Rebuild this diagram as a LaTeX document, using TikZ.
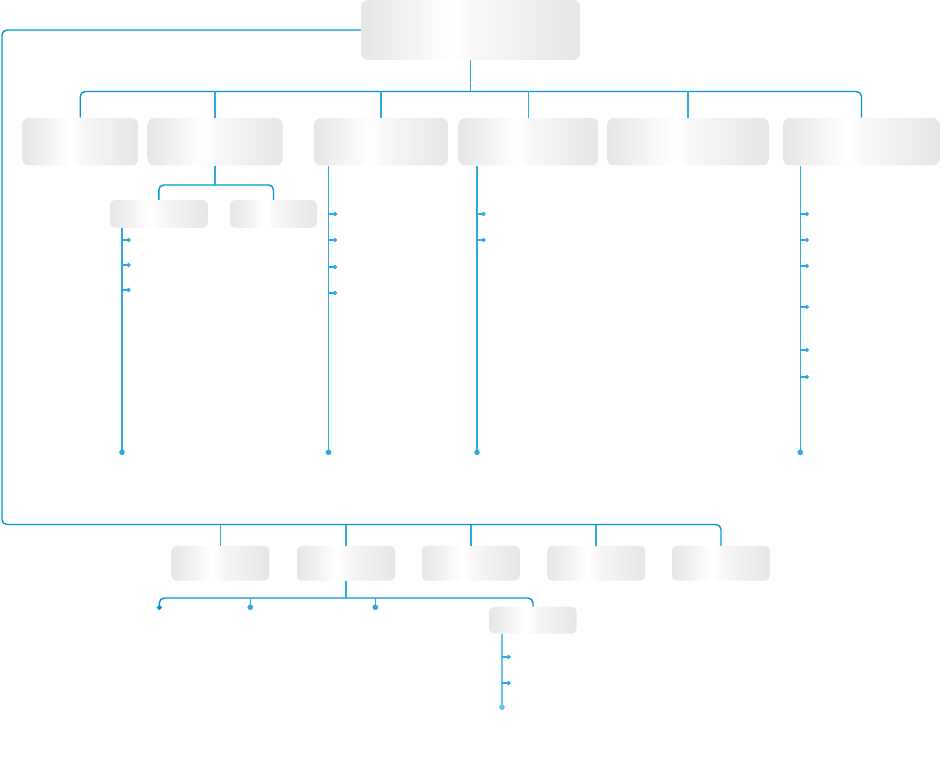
\documentclass[tikz,border=0pt]{standalone}
\usepackage{tikz}
\usetikzlibrary{arrows.meta}

\definecolor{barblue}{RGB}{0,152,214}
\definecolor{stemblue}{RGB}{45,170,225}
\definecolor{paleblue}{RGB}{105,195,235}
\definecolor{boxgray}{RGB}{230,230,230}

\pgfdeclarehorizontalshading{boxshade}{100bp}{color(0bp)=(boxgray); color(25bp)=(boxgray);
    color(46bp)=(white); color(51bp)=(gray!6); color(75bp)=(boxgray); color(100bp)=(boxgray)}

\tikzset{
    box/.style={rectangle, rounded corners=7pt, shading=boxshade, inner sep=0pt},
    smallbox/.style={box, rounded corners=5pt},
    bar/.style={draw=barblue, line width=1.4pt, rounded corners=5pt},
    stem/.style={draw=stemblue, line width=1.7pt},
    list/.style={draw=stemblue, line width=1.5pt, -{Circle[length=5.5pt]}},
    tick/.style={draw=stemblue, line width=1.4pt, -{Circle[length=4pt]}},
}

\begin{document}
\begin{tikzpicture}[x=1pt, y=-1pt]
    \useasboundingbox (0,0) rectangle (940,781);

    \node[box, minimum width=219pt, minimum height=60pt] (root) at (470.5,30) {};

    \node[box, minimum width=116.5pt, minimum height=47.5pt] (b1) at (80.2,141.7) {};
    \node[box, minimum width=135pt, minimum height=47.5pt] (b2) at (215.2,141.7) {};
    \node[box, minimum width=134pt, minimum height=47.5pt] (b3) at (381,141.7) {};
    \node[box, minimum width=140pt, minimum height=47.5pt] (b4) at (528.5,141.7) {};
    \node[box, minimum width=162pt, minimum height=47.5pt] (b5) at (688,141.7) {};
    \node[box, minimum width=157pt, minimum height=47.5pt] (b6) at (861.5,141.7) {};

    \node[smallbox, minimum width=98pt, minimum height=27.7pt] (s1) at (158.8,213.9) {};
    \node[smallbox, minimum width=87pt, minimum height=27.7pt] (s2) at (273.5,213.9) {};

    \node[smallbox, minimum width=97.6pt, minimum height=34.7pt] (bb1) at (220.5,563.3) {};
    \node[smallbox, minimum width=98.4pt, minimum height=34.7pt] (bb2) at (346,563.3) {};
    \node[smallbox, minimum width=98pt, minimum height=34.7pt] (bb3) at (470.8,563.3) {};
    \node[smallbox, minimum width=98pt, minimum height=34.7pt] (bb4) at (596.2,563.3) {};
    \node[smallbox, minimum width=98pt, minimum height=34.7pt] (bb5) at (721,563.3) {};

    \node[smallbox, minimum width=87.4pt, minimum height=27pt] (c) at (533,620.2) {};

    \coordinate (tbar) at (0,91.5);
    \coordinate (sbar) at (0,185);
    \coordinate (cbar) at (0,598);

    % top level
    \draw[bar] (root.west) -| (2,524.5) -| (bb5.north);
    \draw[bar] (b1.north) |- (tbar -| b6.north) -- (b6.north);
    \draw[stem] (root.south) -- (root.south |- tbar);
    \foreach \b in {b2,b3,b4,b5}
        \draw[stem] (\b.north) -- (\b.north |- tbar);
    \foreach \b in {bb1,bb2,bb3,bb4}
        \draw[stem] (\b.north) -- (\b.north |- 0,524.5);

    % second level
    \draw[bar] (s1.north) |- (sbar -| s2.north) -- (s2.north);
    \draw[stem] (b2.south) -- (b2.south |- sbar);

    \coordinate (d1) at (159.3,610);
    \coordinate (d2) at (250.3,610);
    \coordinate (d3) at (375.3,610);
    \draw[bar, {Circle[length=5pt]}-] (d1) |- (cbar -| c.north) -- (c.north);
    \draw[stem] (bb2.south) -- (bb2.south |- cbar);
    \foreach \d in {d2,d3}
        \draw[list, line width=1.4pt] (\d |- cbar) -- (\d);

    % lists
    \coordinate (l1) at (122,455);
    \coordinate (l3) at (328.5,455);
    \coordinate (l4) at (477,455);
    \coordinate (l6) at (800.3,455);
    \coordinate (l7) at (502,710);
    \draw[list] (l1 |- s1.south) -- (l1);
    \draw[list] (l3 |- b3.south) -- (l3);
    \draw[list] (l4 |- b4.south) -- (l4);
    \draw[list] (l6 |- b6.south) -- (l6);
    \draw[list, draw=paleblue] (l7 |- c.south) -- (l7);

    \foreach \y in {240,265,290}
        \draw[tick] (122,\y) -- ++(8.5,0);
    \foreach \y in {214,240,267,293}
        \draw[tick] (328.5,\y) -- ++(8.5,0);
    \foreach \y in {214,240}
        \draw[tick] (477,\y) -- ++(8.5,0);
    \foreach \y in {214,240,266,307,350,377}
        \draw[tick] (800.3,\y) -- ++(8.5,0);
    \foreach \y in {657,683}
        \draw[tick] (502,\y) -- ++(8.5,0);
\end{tikzpicture}
\end{document}
